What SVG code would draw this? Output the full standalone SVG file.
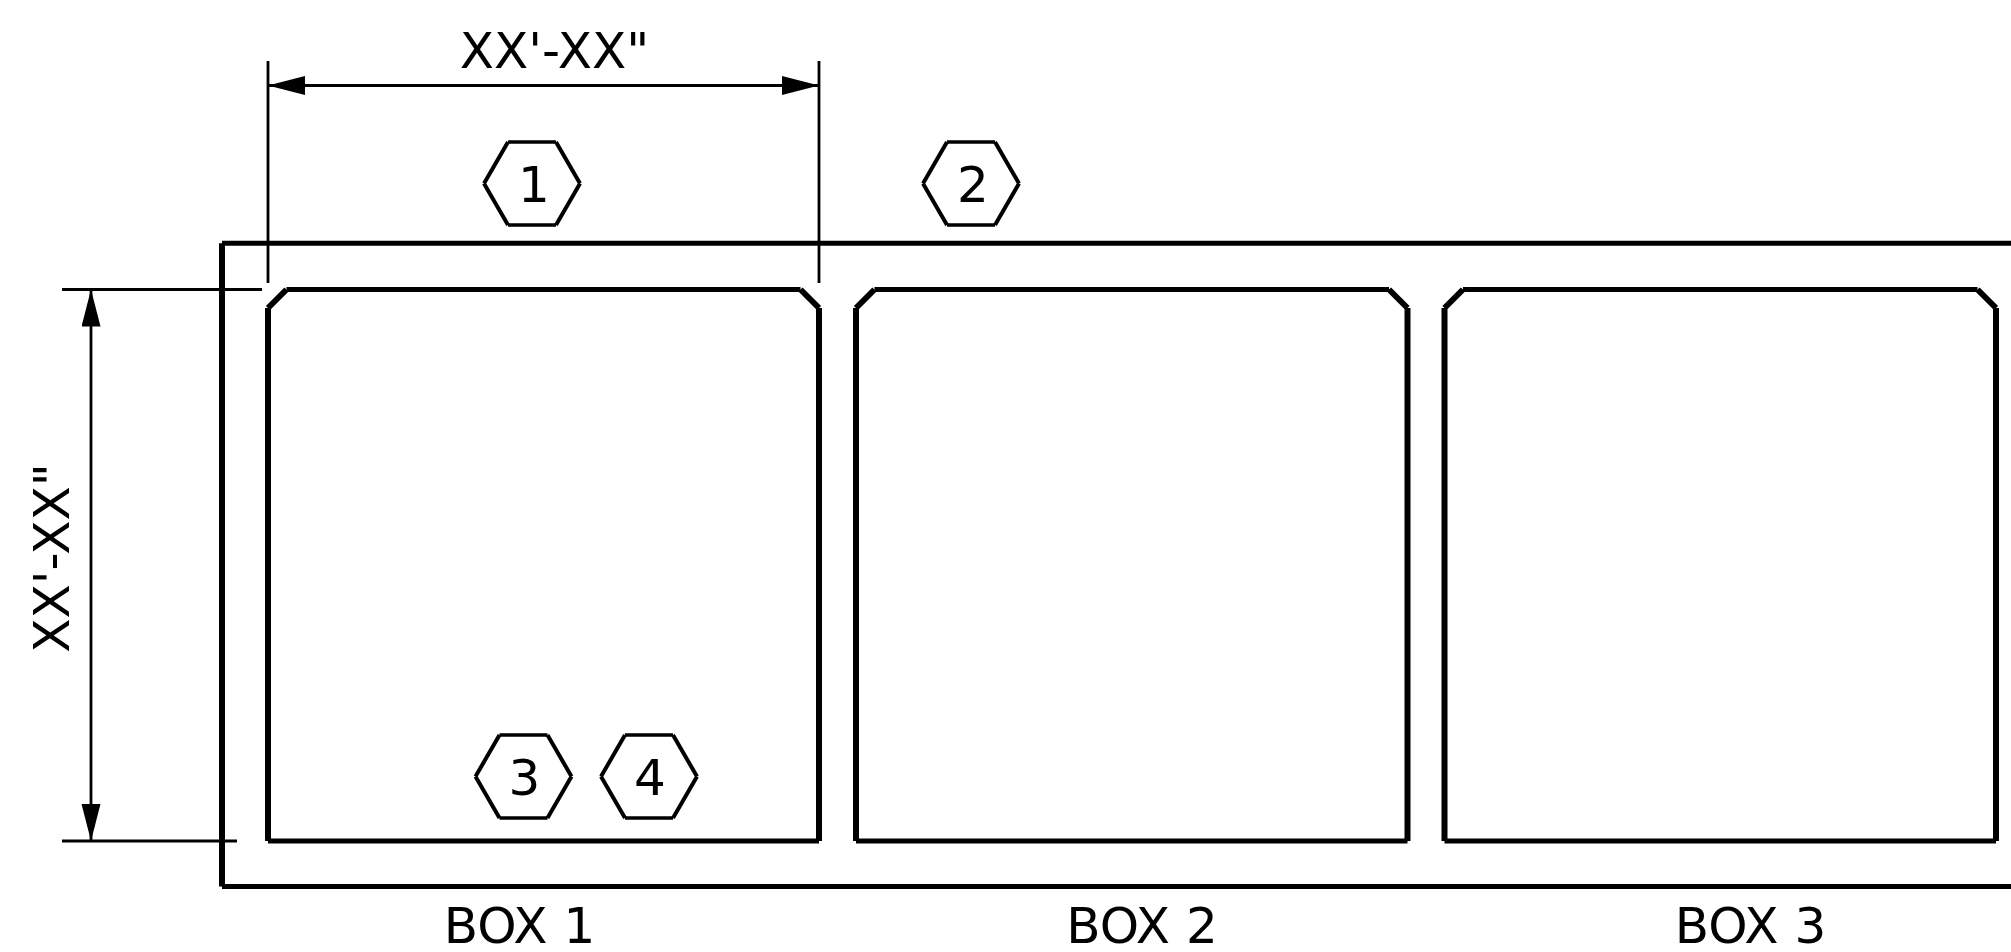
<svg xmlns="http://www.w3.org/2000/svg" width="2011" height="952" viewBox="0 0 2011 952">
<style>
text{font-family:"DejaVu Sans",sans-serif;font-size:50px;fill:#000;text-anchor:middle}
.thick{fill:none;stroke:#000;stroke-width:6}
.thickh{fill:none;stroke:#000;stroke-width:5}
.thin{fill:none;stroke:#000;stroke-width:2.800}
.hex{fill:none;stroke:#000;stroke-width:4}
.hexh{fill:none;stroke:#000;stroke-width:3.500}
</style>
<defs>
<marker id="arrow" markerUnits="userSpaceOnUse" markerWidth="38" markerHeight="20" refX="37" refY="9.500" orient="auto-start-reverse"><path d="M0 0L37 9.500L0 19Z" fill="#000"/></marker>
</defs>
<rect width="2011" height="952" fill="#fff"/>
<g id="frame"><path class="thickh" d="M2011 243.300H222M222 886.500H2011"/><path class="thick" d="M222 243.300V886.500"/></g>
<g id="box1"><path class="thick" d="M268 841V308M268 308L286.500 289.500M800.500 289.500L819 308M819 308V841"/><path class="thickh" d="M286.500 289.500H800.500M819 841H268"/><text x="519.500" y="943">BOX 1</text></g>
<g id="box2"><path class="thick" d="M856 841V308M856 308L874.500 289.500M1389 289.500L1407.500 308M1407.500 308V841"/><path class="thickh" d="M874.500 289.500H1389M1407.500 841H856"/><text x="1142" y="943">BOX 2</text></g>
<g id="box3"><path class="thick" d="M1444.500 841V308M1444.500 308L1463 289.500M1977.500 289.500L1996 308M1996 308V841"/><path class="thickh" d="M1463 289.500H1977.500M1996 841H1444.500"/><text x="1750.500" y="943">BOX 3</text></g>
<g id="tag1"><path class="hex" d="M484 183.500L508 142M556 142L580 183.500M580 183.500L556 225M508 225L484 183.500"/><path class="hexh" d="M508 142H556M556 225H508"/><text x="534" y="201.500">1</text></g>
<g id="tag2"><path class="hex" d="M923 183.500L947 142M995 142L1019 183.500M1019 183.500L995 225M947 225L923 183.500"/><path class="hexh" d="M947 142H995M995 225H947"/><text x="973" y="201.500">2</text></g>
<g id="tag3"><path class="hex" d="M475.500 776.500L499.500 735M547.500 735L571.500 776.500M571.500 776.500L547.500 818M499.500 818L475.500 776.500"/><path class="hexh" d="M499.500 735H547.500M547.500 818H499.500"/><text x="524.500" y="794.500">3</text></g>
<g id="tag4"><path class="hex" d="M601 776.500L625 735M673 735L697 776.500M697 776.500L673 818M625 818L601 776.500"/><path class="hexh" d="M625 735H673M673 818H625"/><text x="650" y="794.500">4</text></g>
<g id="connectors">
<path class="thin" d="M268 61V283M819 61V283M62 289.500H262M62 841H237"/>
<path class="thin" d="M268 85.500H819" marker-start="url(#arrow)" marker-end="url(#arrow)"/>
<path class="thin" d="M91 289.500V841" marker-start="url(#arrow)" marker-end="url(#arrow)"/>
</g>
<g id="dim-width"><text x="554.500" y="67.500">XX'-XX"</text></g>
<g id="dim-height"><text transform="translate(69 558) rotate(-90)">XX'-XX"</text></g>
</svg>
